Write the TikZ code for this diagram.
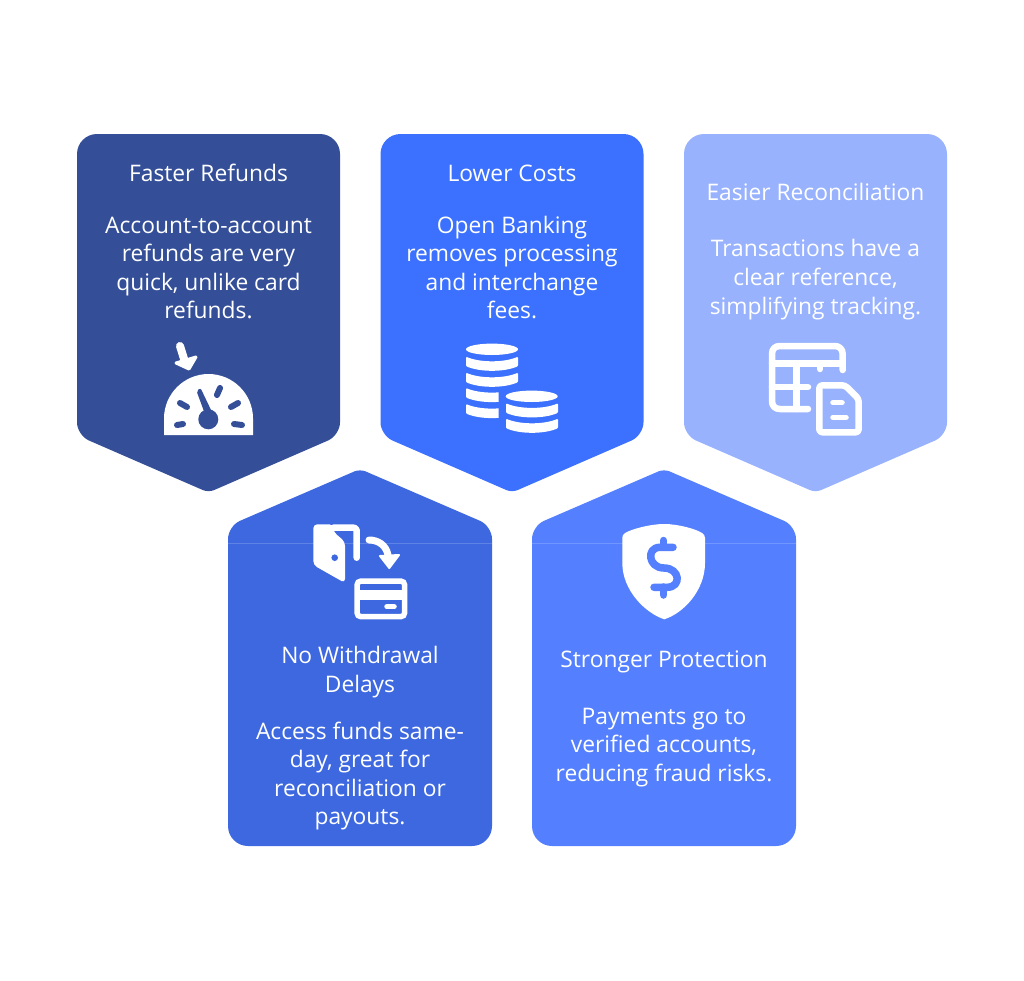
\documentclass[tikz,border=0pt]{standalone}
\usepackage{fontspec}
\setmainfont{Open Sans}
\definecolor{cardnavy}{HTML}{344F98}
\definecolor{cardblue}{HTML}{3B71FE}
\definecolor{cardpale}{HTML}{98B2FE}
\definecolor{cardroyal}{HTML}{3D68E0}
\definecolor{cardsky}{HTML}{5480FF}
\newcommand{\downcard}[2]{
  \fill[#2,rounded corners=20pt] (#1-131.5,134) -- (#1+131.5,134)
     [rounded corners=13pt] -- (#1+131.5,435.3)
     [rounded corners=6pt] -- (#1,492.5)
     [rounded corners=13pt] -- (#1-131.5,435.3)
     [rounded corners=20pt] -- cycle;
}
\newcommand{\upcard}[2]{
  \fill[#2,rounded corners=20pt] (#1-132,846) -- (#1+132,846)
     [rounded corners=13pt] -- (#1+132,526)
     [rounded corners=6pt] -- (#1,469)
     [rounded corners=13pt] -- (#1-132,526)
     [rounded corners=20pt] -- cycle;
  \draw[white,opacity=0.18,thin] (#1-132,543) -- (#1+132,543);
}
\newcommand{\coinband}[2]{
  \fill[white,rounded corners=1pt] (#1,#2) .. controls (#1+14,#2+6) and (#1+38,#2+6) .. (#1+52,#2)
     -- (#1+52,#2+9.5) .. controls (#1+38,#2+15.5) and (#1+14,#2+15.5) .. (#1,#2+9.5) -- cycle;
}
\tikzset{
  cardtitle/.style={text=white,align=center,font=\fontsize{22.8}{28.6}\selectfont},
  cardbody/.style={text=white,align=center,font=\fontsize{22.8}{28.6}\selectfont},
  iconline/.style={draw=white,line width=6.5pt,line cap=round,line join=round}
}
\begin{document}
\begin{tikzpicture}[x=1pt,y=-1pt]
\useasboundingbox (0,0) rectangle (1024,980);
\downcard{208.5}{cardnavy}
\downcard{512}{cardblue}
\downcard{815.5}{cardpale}
\upcard{360}{cardroyal}
\upcard{664}{cardsky}

\node[cardtitle] (fastertitle) at (208.5,172.5) {Faster Refunds};
\node[cardbody] (fasterbody) at (208.5,268) {Account-to-account\\refunds are very\\quick, unlike card\\refunds.};
\node[cardtitle] (lowertitle) at (512,173) {Lower Costs};
\node[cardbody] (lowerbody) at (512,267.5) {Open Banking\\removes processing\\and interchange\\fees.};
\node[cardtitle] (easiertitle) at (815.5,191.5) {Easier Reconciliation};
\node[cardbody] (easierbody) at (815.5,279.5) {Transactions have a\\clear reference,\\simplifying tracking.};
\node[cardtitle] (delaytitle) at (360,672) {No Withdrawal\\Delays};
\node[cardbody] (delaybody) at (360,776) {Access funds same-\\day, great for\\reconciliation or\\payouts.};
\node[cardtitle] (strongertitle) at (664,661.5) {Stronger Protection};
\node[cardbody] (strongerbody) at (664,747.5) {Payments go to\\verified accounts,\\reducing fraud risks.};

% gauge
\fill[white] (164,435) -- (164,418.5) .. controls (164,394) and (184,374) .. (208.5,374)
   .. controls (233,374) and (253,394) .. (253,418.5) -- (253,435) -- cycle;
\fill[cardnavy] (208.3,419.3) circle (10);
\fill[cardnavy,rounded corners=2pt] (196.5,391) -- (200.5,388) -- (212,412) -- (205,414) -- cycle;
\foreach \xa/\ya/\xb/\yb in {177/425/183/424,180/403/187/407,220/388/217/395,238/403/231/407,234/424/242/425}
  \draw[cardnavy,line width=6pt,line cap=round] (\xa,\ya) -- (\xb,\yb);
\draw[white,line width=8pt,line cap=round] (180,346) -- (185,362);
\fill[white,draw=white,line width=3pt,line join=round] (176,363) -- (196,357) -- (189,369) -- cycle;

% coins
\fill[white] (492,349.3) ellipse [x radius=26,y radius=5.7];
\coinband{466}{356.7}
\coinband{466}{372.7}
\begin{scope}
\clip (460,380) rectangle (498.7,430);
\coinband{466}{388}
\coinband{466}{404}
\end{scope}
\fill[white] (531.7,396.3) ellipse [x radius=26,y radius=5.7];
\coinband{506}{403.3}
\coinband{506}{418.7}

% table and document
\draw[iconline] (842.7,370) -- (842.7,354) .. controls (842.7,349) and (839,346) .. (835,346)
   -- (780,346) .. controls (775,346) and (772,349) .. (772,354) -- (772,401)
   .. controls (772,406) and (775,409) .. (780,409) -- (808,409);
\draw[iconline] (772,363.7) -- (842.7,363.7);
\draw[iconline] (772,387) -- (808,387);
\draw[iconline] (796.7,363.7) -- (796.7,409);
\draw[iconline] (820,363.7) -- (820,369);
\draw[iconline,rounded corners=3pt] (819.3,385.3) -- (845,385.3) -- (858.7,399) -- (858.7,432.3) -- (819.3,432.3) -- cycle;
\draw[iconline,line width=5.5pt] (833,402.7) -- (842,402.7);
\draw[iconline,line width=5.5pt] (833,417.3) -- (846,417.3);

% door and payment card
\fill[white,rounded corners=4pt] (313.3,524.3) -- (333.3,524.3) -- (333.3,531.7) -- (345,541.7)
   -- (345,583) -- (313.3,565) -- cycle;
\draw[iconline,rounded corners=3pt] (333.3,527.7) -- (356.7,527.7) -- (356.7,557.7);
\fill[cardroyal] (334.7,557.7) circle (3.3);
\draw[white,line width=7pt,line cap=round] (369,540) .. controls (378,540) and (386,545) .. (388,555);
\fill[white,draw=white,line width=2pt,line join=round] (380,556) -- (399,555) -- (389.3,568) -- cycle;
\draw[white,line width=5.5pt,rounded corners=4pt] (357,581) rectangle (404.7,616.7);
\fill[white] (357,590) rectangle (404.7,600);
\draw[white,line width=5.5pt,line cap=round] (387,606.7) -- (394,606.7);

% shield
\fill[white] (664.3,524) .. controls (650,524) and (632,529) .. (625,533)
   .. controls (623,534) and (622.3,536) .. (622.3,538)
   -- (622.3,563) .. controls (622.3,590) and (645,613) .. (664.3,619.3)
   .. controls (684,613) and (705,590) .. (705,563) -- (705,538)
   .. controls (705,536) and (704,534) .. (702,533)
   .. controls (696,529) and (678,524) .. (664.3,524) -- cycle;
\draw[cardsky,line width=7.5pt,line cap=round,line join=round] (673,547.3) -- (660,547.3)
   .. controls (646,547.3) and (648,568) .. (664,568)
   .. controls (680,568) and (682,587.3) .. (667,587.3) -- (654,587.3);
\draw[cardsky,line width=7.5pt,line cap=round] (663.5,540.5) -- (663.5,547);
\draw[cardsky,line width=7.5pt,line cap=round] (663.5,587) -- (663.5,595);
\end{tikzpicture}
\end{document}
